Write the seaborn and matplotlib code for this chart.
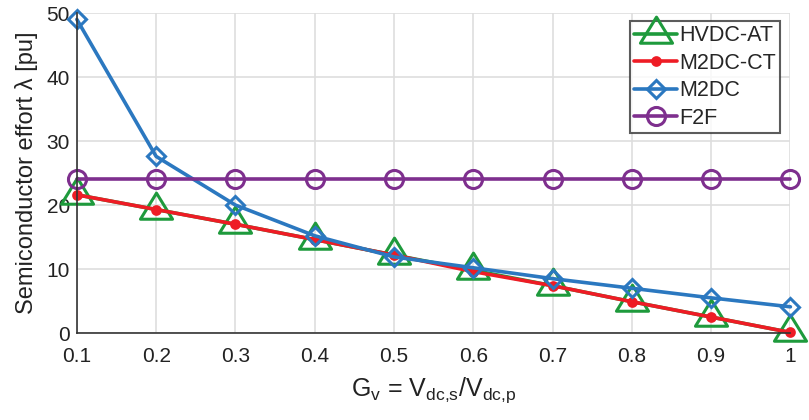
import matplotlib
matplotlib.use("Agg")
import matplotlib.pyplot as plt
from matplotlib.path import Path
import seaborn as sns
import pandas as pd

gv = [0.1, 0.2, 0.3, 0.4, 0.5, 0.6, 0.7, 0.8, 0.9, 1.0]
hvdc_at = [21.6, 19.3, 17.0, 14.6, 12.2, 9.8, 7.4, 4.9, 2.5, 0.1]
m2dc_ct = [21.6, 19.3, 17.0, 14.6, 12.2, 9.6, 7.4, 4.9, 2.5, 0.1]
m2dc = [49.0, 27.6, 20.0, 15.2, 11.9, 10.2, 8.5, 7.0, 5.5, 4.1]
f2f = [24.0] * 10
names = ["HVDC-AT", "M2DC-CT", "M2DC", "F2F"]
xticks = [0.1, 0.2, 0.3, 0.4, 0.5, 0.6, 0.7, 0.8, 0.9, 1.0]
xticklabels = ["0.1", "0.2", "0.3", "0.4", "0.5", "0.6", "0.7", "0.8", "0.9", "1"]
yticks = [0, 10, 20, 30, 40, 50]

sns.set_style("whitegrid")
plt.rcParams["font.family"] = ["Liberation Sans", "DejaVu Sans"]
plt.rcParams["mathtext.fontset"] = "custom"
plt.rcParams["mathtext.rm"] = "Liberation Sans"
plt.rcParams["mathtext.default"] = "regular"

fig, ax = plt.subplots(figsize=(8.09, 4.20), dpi=100)
fig.subplots_adjust(left=0.095, right=0.977, top=0.969, bottom=0.207)

# triangle centred on its centroid (as in the source figure)
tri = Path([(0, 17.3), (-16, -8.7), (16, -8.7), (0, 17.3)],
           [Path.MOVETO, Path.LINETO, Path.LINETO, Path.CLOSEPOLY])

series = [
    (names[0], hvdc_at, "#1e9a3c", tri, 25, "none"),
    (names[1], m2dc_ct, "#ee1c25", "o", 5.5, "#ee1c25"),
    (names[2], m2dc, "#2b78c0", "D", 9, "none"),
    (names[3], f2f, "#7e2f8e", "o", 13, "none"),
]
for name, vals, color, mk, ms, mfc in series:
    df = pd.DataFrame({"x": gv, "y": vals})
    sns.lineplot(data=df, x="x", y="y", ax=ax, color=color, marker=mk,
                 markersize=ms, markerfacecolor=mfc, markeredgecolor=color,
                 markeredgewidth=2.2, linewidth=2.6, label=name)

ax.set_xlim(0.1, 1.0)
ax.set_ylim(0, 50)
ax.set_xticks(xticks)
ax.set_xticklabels(xticklabels)
ax.set_yticks(yticks)
ax.grid(True, color="#dedede", linewidth=1.2)
for s in ["top", "right"]:
    ax.spines[s].set_visible(False)
for s in ["left", "bottom"]:
    ax.spines[s].set_color("#333333")
    ax.spines[s].set_linewidth(1.2)
ax.tick_params(axis="both", direction="in", length=5, width=1.2, color="#333333",
               labelsize=15, labelcolor="#222222")
ax.tick_params(axis="x", pad=10)
ax.tick_params(axis="y", pad=5)
for lbl in ax.get_xticklabels() + ax.get_yticklabels():
    lbl.set_clip_on(False)
ax.set_xlabel(r"G$_{v}$ = V$_{dc{,}s}$/V$_{dc{,}p}$", fontsize=18, color="#222222", labelpad=7)
ax.set_ylabel("Semiconductor effort λ [pu]", fontsize=17, color="#222222", labelpad=6)

leg = ax.legend(loc="upper right", bbox_to_anchor=(0.986, 0.975), frameon=True, fancybox=False,
                edgecolor="#333333", fontsize=15.5, handlelength=2.0, handletextpad=0.1,
                borderpad=0.2, labelspacing=0.3, borderaxespad=0)
leg.get_frame().set_linewidth(1.5)
for line in ax.get_lines():
    line.set_clip_on(False)

fig.savefig("out.png", dpi=100)
